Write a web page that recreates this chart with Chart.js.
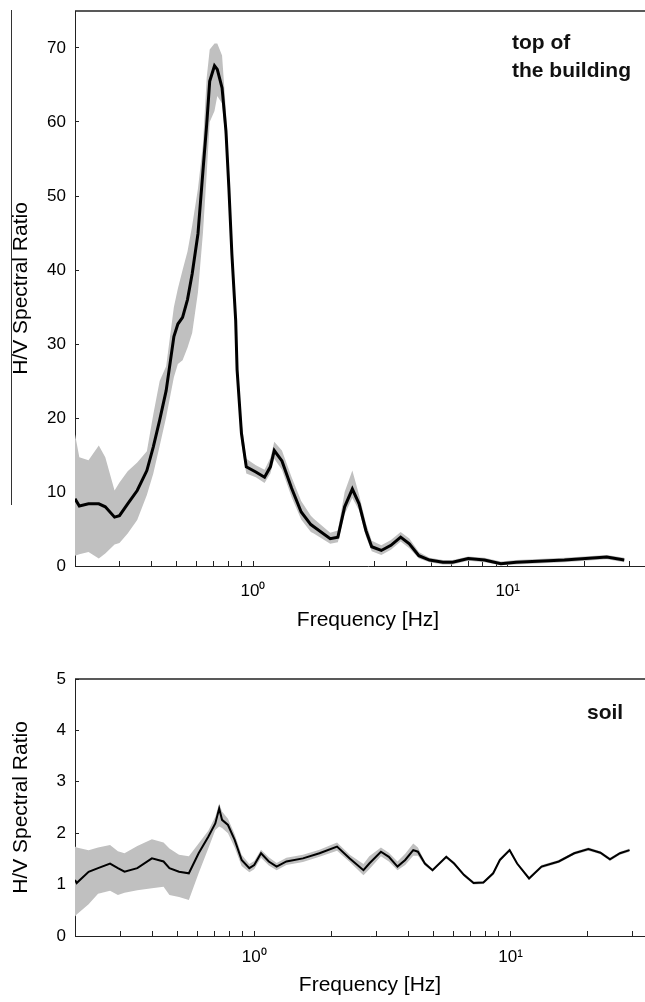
<!DOCTYPE html>
<html>
<head>
<meta charset="utf-8">
<title>H/V spectral ratio</title>
<script src="https://cdn.jsdelivr.net/npm/chart.js@4.4.1/dist/chart.umd.min.js"></script>
<style>
  html, body { margin: 0; padding: 0; background: #fff; overflow: hidden; }
  #page { position: relative; width: 645px; height: 1002px; overflow: hidden; background: #fff; }
  #topChart { position: absolute; left: 0; top: 0; }
  #soilChart { position: absolute; left: 0; top: 650px; }
  .note { position: absolute; font-family: 'Liberation Sans', Arial, sans-serif; font-weight: bold;
          font-size: 21px; line-height: 28px; color: #111; white-space: nowrap; }
  #edge { position: absolute; left: 11px; top: 10px; width: 1px; height: 495px; background: #333; }
</style>
</head>
<body>
<div id="page">
  <div id="edge"></div>
  <canvas id="topChart" width="681" height="640" style="width:681px;height:640px"></canvas>
  <canvas id="soilChart" width="681" height="352" style="width:681px;height:352px"></canvas>
  <div class="note" style="left:512px;top:28px">top of<br>the building</div>
  <div class="note" style="left:587px;top:698px">soil</div>
</div>
<script>
// top of the building: frequency (Hz), mean H/V and the +/- band
const topFreq = [0.2, 0.208, 0.226, 0.248, 0.263, 0.286, 0.299, 0.322, 0.351, 0.383, 0.406, 0.43, 0.456,
  0.489, 0.507, 0.529, 0.553, 0.577, 0.608, 0.636, 0.658, 0.676, 0.706,
  0.724, 0.756, 0.783, 0.804, 0.826, 0.855, 0.866, 0.901, 0.941, 1.026,
  1.11, 1.17, 1.212, 1.299, 1.418, 1.546, 1.687, 1.733, 2.01, 2.154,
  2.29, 2.455, 2.61, 2.775, 2.925, 3.19, 3.48, 3.8, 4.11, 4.48,
  4.93, 5.57, 6.08, 7.0, 8.11, 9.4, 10.8, 16.7, 24.5, 28.7];
const topMean = [9.1, 8.1, 8.4, 8.4, 8.0, 6.6, 6.8, 8.4, 10.2, 12.9, 16.1, 19.7, 23.7,
  31.0, 32.7, 33.6, 36.0, 39.5, 44.9, 53.4, 59.7, 65.5, 67.6,
  67.1, 64.6, 58.8, 51.1, 42.2, 33.2, 26.5, 17.9, 13.4, 12.7,
  12.0, 13.4, 15.6, 14.2, 10.5, 7.3, 5.6, 5.3, 3.7, 3.9,
  8.0, 10.4, 8.4, 4.8, 2.6, 2.1, 2.8, 3.9, 3.0, 1.4,
  0.8, 0.5, 0.5, 1.0, 0.8, 0.3, 0.5, 0.8, 1.2, 0.8];
const topUpper = [17.8, 14.7, 14.3, 16.3, 14.7, 10.2, 11.3, 12.8, 14.0, 15.5, 20.5, 25.0, 27.0,
  35.0, 37.5, 40.0, 42.5, 46.0, 51.0, 57.0, 66.0, 69.8, 70.6,
  70.6, 69.0, 61.5, 53.0, 44.5, 35.0, 28.3, 19.5, 14.5, 13.6,
  13.0, 14.6, 16.8, 15.6, 12.0, 8.8, 6.8, 6.4, 4.5, 4.8,
  10.0, 12.9, 9.6, 5.8, 3.4, 2.8, 3.5, 4.6, 3.7, 1.9,
  1.1, 0.8, 0.8, 1.3, 1.1, 0.6, 0.8, 1.1, 1.5, 1.1];
const topLower = [1.4, 1.6, 1.9, 1.0, 1.7, 2.9, 3.1, 4.4, 6.2, 9.6, 12.5, 16.2, 20.1,
  25.5, 27.3, 27.8, 29.5, 31.5, 37.0, 45.0, 53.0, 60.0, 61.5,
  63.5, 62.5, 57.0, 49.5, 40.5, 31.5, 25.0, 16.5, 12.5, 12.0,
  11.2, 12.5, 14.5, 13.0, 9.3, 6.3, 4.6, 4.4, 3.0, 3.2,
  7.0, 9.2, 7.5, 4.0, 2.0, 1.5, 2.2, 3.3, 2.4, 1.0,
  0.5, 0.2, 0.2, 0.7, 0.5, 0.1, 0.2, 0.5, 0.9, 0.5];

// soil
const soilFreq = [0.2, 0.203, 0.226, 0.246, 0.274, 0.294, 0.312, 0.35, 0.399, 0.443,
  0.467, 0.509, 0.556, 0.607, 0.662, 0.705, 0.73, 0.749, 0.79, 0.839,
  0.893, 0.957, 1.0, 1.063, 1.14, 1.223, 1.335, 1.549, 1.797, 2.104,
  2.358, 2.667, 2.81, 3.12, 3.35, 3.62, 3.88, 4.17, 4.35, 4.63,
  4.96, 5.61, 6.02, 6.57, 7.17, 7.83, 8.55, 9.08, 9.91, 10.6,
  11.8, 13.2, 15.4, 17.7, 20.1, 22.4, 24.4, 26.7, 29.1];
const soilMean = [1.09, 1.03, 1.25, 1.32, 1.41, 1.32, 1.25, 1.32, 1.51, 1.45,
  1.32, 1.25, 1.22, 1.61, 1.93, 2.19, 2.48, 2.26, 2.16, 1.87,
  1.48, 1.32, 1.38, 1.61, 1.45, 1.35, 1.45, 1.51, 1.61, 1.74,
  1.51, 1.28, 1.41, 1.64, 1.54, 1.35, 1.48, 1.67, 1.64, 1.41,
  1.28, 1.54, 1.41, 1.19, 1.03, 1.04, 1.22, 1.48, 1.67, 1.41,
  1.12, 1.35, 1.45, 1.61, 1.69, 1.62, 1.49, 1.61, 1.67];
const soilUpper = [1.74, 1.72, 1.67, 1.72, 1.77, 1.65, 1.61, 1.75, 1.88, 1.82,
  1.70, 1.58, 1.55, 1.80, 2.05, 2.32, 2.58, 2.42, 2.28, 1.98,
  1.58, 1.40, 1.46, 1.68, 1.53, 1.42, 1.52, 1.58, 1.68, 1.82,
  1.58, 1.40, 1.55, 1.72, 1.62, 1.45, 1.60, 1.80, 1.72, 1.45,
  1.31, 1.57, 1.44, 1.22, 1.06, 1.07, 1.25, 1.51, 1.70, 1.44,
  1.15, 1.38, 1.48, 1.64, 1.72, 1.65, 1.52, 1.64, 1.70];
const soilLower = [0.38, 0.42, 0.62, 0.82, 0.88, 0.80, 0.84, 0.89, 0.93, 0.96,
  0.80, 0.76, 0.70, 1.22, 1.70, 2.06, 2.13, 2.10, 2.00, 1.72,
  1.36, 1.24, 1.30, 1.52, 1.37, 1.28, 1.38, 1.44, 1.54, 1.66,
  1.44, 1.18, 1.30, 1.55, 1.45, 1.28, 1.38, 1.56, 1.56, 1.37,
  1.25, 1.51, 1.38, 1.16, 1.00, 1.01, 1.19, 1.45, 1.64, 1.38,
  1.09, 1.32, 1.42, 1.58, 1.66, 1.59, 1.46, 1.58, 1.64];

// axes
const xTickValues = [0.2, 0.3, 0.4, 0.5, 0.6, 0.7, 0.8, 0.9, 1, 2, 3, 4, 5, 6, 7, 8, 9, 10, 20, 30, 40];
const xMajorTicks = [1, 10];
const xMajorLabels = ['10⁰', '10¹'];
const topYTicks = [0, 10, 20, 30, 40, 50, 60, 70];
const soilYTicks = [0, 1, 2, 3, 4, 5];

const fontFamily = "'Liberation Sans', Arial, sans-serif";
const axisColor = '#222';
const bandColor = '#c0c0c0';

// Matlab style box: only the top edge is visible in the crop
const topFrame = {
    id: 'topFrame',
    afterDraw(chart) {
        const { ctx, chartArea } = chart;
        ctx.save();
        ctx.strokeStyle = axisColor;
        ctx.lineWidth = 1.5;
        ctx.beginPath();
        ctx.moveTo(chartArea.left, chartArea.top);
        ctx.lineTo(chartArea.right, chartArea.top);
        ctx.stroke();
        ctx.restore();
    }
};

function makeChart(id, freq, mean, upper, lower, yMax, yTicks, cfg) {
    const toPoints = vals => vals.map((v, i) => ({ x: freq[i], y: v }));

    return new Chart(document.getElementById(id), {
        type: 'line',
        data: {
            datasets: [
                // first dataset is drawn last, so the mean line sits on the band
                { data: toPoints(mean), borderColor: '#000', borderWidth: cfg.lineWidth, pointRadius: 0, fill: false, tension: 0 },
                { data: toPoints(upper), borderColor: 'transparent', borderWidth: 0, pointRadius: 0, fill: '+1', backgroundColor: bandColor },
                { data: toPoints(lower), borderColor: 'transparent', borderWidth: 0, pointRadius: 0, fill: false }
            ]
        },
        options: {
            responsive: false,
            animation: false,
            devicePixelRatio: 1,
            layout: { padding: { top: cfg.padTop, left: 0, right: 0, bottom: 0 } },
            plugins: { legend: { display: false }, tooltip: { enabled: false } },
            scales: {
                x: {
                    type: 'logarithmic',
                    min: 0.2,
                    max: 40,
                    afterBuildTicks: scale => { scale.ticks = xTickValues.map(v => ({ value: v })); },
                    afterFit: scale => { scale.height = cfg.xAxisHeight; },
                    grid: { drawOnChartArea: false, tickLength: -5, tickColor: axisColor, tickWidth: 1 },
                    border: { color: axisColor, width: 1 },
                    ticks: {
                        autoSkip: false,
                        maxRotation: 0,
                        padding: cfg.xLabelPad,
                        color: '#000',
                        font: { family: fontFamily, size: 17 },
                        callback: value => {
                            const k = xMajorTicks.indexOf(value);
                            return k >= 0 ? xMajorLabels[k] : '';
                        }
                    },
                    title: {
                        display: true,
                        text: 'Frequency [Hz]',
                        color: '#000',
                        font: { family: fontFamily, size: 21 },
                        padding: { top: 0, bottom: cfg.xTitlePad }
                    }
                },
                y: {
                    min: 0,
                    max: yMax,
                    afterBuildTicks: scale => { scale.ticks = yTicks.map(v => ({ value: v })); },
                    afterFit: scale => {
                        scale.width = 75;
                        // plot box is placed by the layout padding only
                        scale.paddingTop = 0;
                        scale.paddingBottom = 0;
                    },
                    grid: { drawOnChartArea: false, tickLength: -4, tickColor: axisColor, tickWidth: 1 },
                    border: { color: axisColor, width: 1 },
                    ticks: { padding: 13, color: '#000', font: { family: fontFamily, size: 17 } },
                    title: {
                        display: true,
                        text: 'H/V Spectral Ratio',
                        color: '#000',
                        font: { family: fontFamily, size: 21 },
                        padding: { top: 9, bottom: 0 }
                    }
                }
            }
        },
        plugins: [topFrame]
    });
}

makeChart('topChart', topFreq, topMean, topUpper, topLower, 75, topYTicks,
    { lineWidth: 3, padTop: 11, xAxisHeight: 74, xLabelPad: 20, xTitlePad: 7 });

makeChart('soilChart', soilFreq, soilMean, soilUpper, soilLower, 5, soilYTicks,
    { lineWidth: 2, padTop: 29, xAxisHeight: 66, xLabelPad: 16, xTitlePad: 4 });
</script>
</body>
</html>
